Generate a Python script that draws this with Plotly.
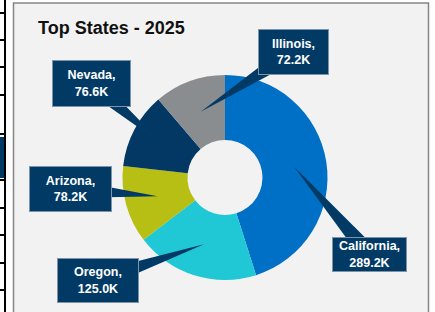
import math
import plotly.graph_objects as go

states = ["California", "Oregon", "Arizona", "Nevada", "Illinois"]
values = [289.2, 125.0, 78.2, 76.6, 72.2]
value_labels = ["289.2K", "125.0K", "78.2K", "76.6K", "72.2K"]
colors = ["#0070C6", "#20C8D6", "#B7BF14", "#033864", "#8A8D90"]
title_text = "Top States - 2025"

W, H = 435, 312
NAVY = "#023A66"
FONT = "Liberation Sans, Arial, sans-serif"

# donut geometry (pixels)
cx, cy, R = 225.0, 177.5, 102.5
hole = 0.366


def px(x):
    return x / W


def py(y):
    return 1 - y / H


fig = go.Figure()
fig.add_trace(go.Pie(
    labels=states, values=values, sort=False, direction="clockwise", rotation=0,
    hole=hole, marker=dict(colors=colors, line=dict(width=0)),
    textinfo="none", hoverinfo="label+value", showlegend=False,
    domain=dict(x=[px(cx - R), px(cx + R)], y=[py(cy + R), py(cy - R)]),
))

shapes = []
# panel background
shapes.append(dict(type="rect", xref="paper", yref="paper", layer="below",
                   x0=px(13.5), x1=px(428.5), y0=py(3), y1=py(318),
                   fillcolor="#F2F2F2", line=dict(color="#858585", width=1.5)))

# left-edge fragments of neighbouring table
shapes.append(dict(type="line", xref="paper", yref="paper", layer="below",
                   x0=px(5), x1=px(5), y0=py(0), y1=py(312), line=dict(color="#000", width=2)))
for yy in [13, 40, 67, 95, 134, 180, 208, 235, 263, 290]:
    shapes.append(dict(type="line", xref="paper", yref="paper", layer="below",
                       x0=px(0), x1=px(5), y0=py(yy), y1=py(yy), line=dict(color="#000", width=2)))
shapes.append(dict(type="rect", xref="paper", yref="paper", layer="below",
                   x0=px(0), x1=px(4), y0=py(137), y1=py(178), fillcolor="#023A66", line=dict(width=0)))

# callout boxes: centre x, centre y, width, height (pixels)
boxes = {
    "Illinois": (293.5, 52, 71, 46),
    "Nevada": (91.5, 83.5, 79, 47),
    "Arizona": (70.5, 189, 83, 46),
    "Oregon": (98, 280.5, 82, 45),
    "California": (369.5, 254.5, 75, 35),
}

total = sum(values)
annotations = []
start = 0.0
for name, v, lab in zip(states, values, value_labels):
    span = v / total * 360
    mid = math.radians(start + span / 2)
    start += span
    rmid = R * (1 + hole) / 2
    tx, ty = cx + rmid * math.sin(mid), cy - rmid * math.cos(mid)
    bx, by, bw, bh = boxes[name]
    dx, dy = tx - bx, ty - by
    L = math.hypot(dx, dy)
    nx, ny = -dy / L, dx / L
    hw = 9
    p1 = (bx + nx * hw, by + ny * hw)
    p2 = (bx - nx * hw, by - ny * hw)
    path = "M {} {} L {} {} L {} {} Z".format(px(p1[0]), py(p1[1]), px(p2[0]), py(p2[1]), px(tx), py(ty))
    shapes.append(dict(type="path", xref="paper", yref="paper", layer="above",
                       path=path, fillcolor=NAVY, line=dict(width=0)))
    annotations.append(dict(
        xref="paper", yref="paper", x=px(bx), y=py(by), xanchor="center", yanchor="middle",
        text="<b>{},<br>{}</b>".format(name, lab), showarrow=False,
        font=dict(family=FONT, size=12.5, color="white"),
        bgcolor=NAVY, bordercolor="#7F93A8", borderwidth=1, borderpad=0,
        width=bw - 2, height=bh - 2, align="center", valign="middle"))

annotations.append(dict(xref="paper", yref="paper", x=px(36), y=py(16), xanchor="left", yanchor="top",
                        text="<b>" + title_text + "</b>", showarrow=False,
                        font=dict(family=FONT, size=18, color="#111111")))

fig.update_layout(width=W, height=H, margin=dict(l=0, r=0, t=0, b=0),
                  paper_bgcolor="white", plot_bgcolor="white",
                  shapes=shapes, annotations=annotations)

fig.write_html("out.html", config={"displayModeBar": False},
               post_script="document.body.style.margin='0';document.body.style.overflow='hidden';")
